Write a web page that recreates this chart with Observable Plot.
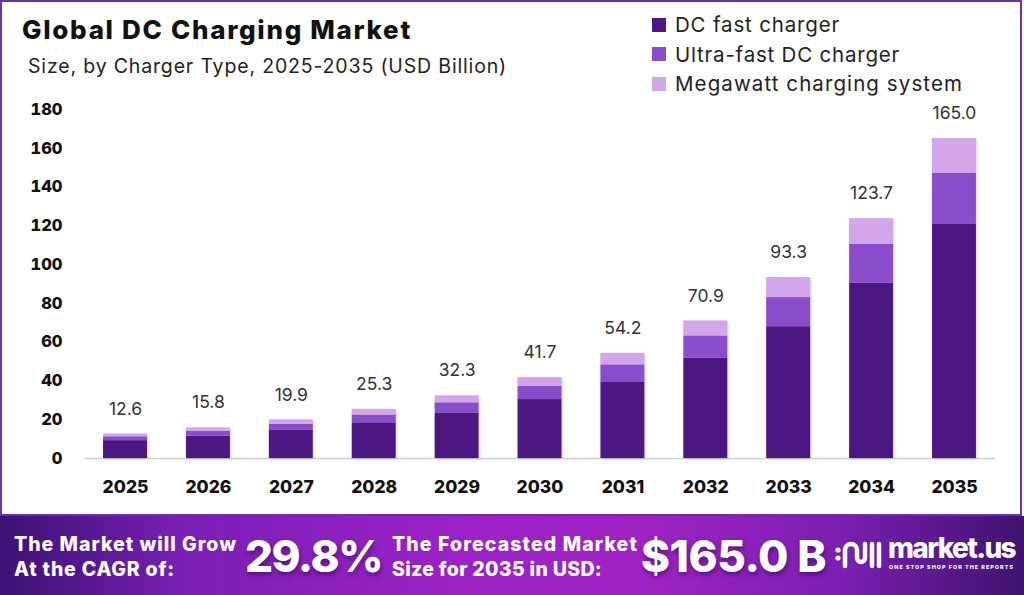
<!DOCTYPE html>
<html>
<head>
<meta charset="utf-8">
<script src="https://cdn.jsdelivr.net/npm/d3@7"></script>
<script src="https://cdn.jsdelivr.net/npm/@observablehq/plot@0.6"></script>
<style>
  html, body { margin: 0; padding: 0; background: #fff; }
  body { width: 1024px; height: 595px; overflow: hidden; position: relative; font-family: Inter, "Open Sans", sans-serif; }
  #frame { position: absolute; left: 0; top: 0; width: 1018px; height: 512px; border: 2px solid #6f2db0; background: #fff; }
  .fit { position: absolute; white-space: nowrap; }
  #title { left: 22px; top: 14px; font-size: 26px; font-weight: 800; color: #111; }
  #subtitle { left: 28px; top: 54px; font-size: 19.5px; font-weight: 400; color: #222; }
  .li { position: absolute; left: 652px; display: flex; align-items: center; height: 29px; font-size: 20.5px; color: #222; }
  .sw { width: 14px; height: 14px; margin-right: 9px; flex: none; }
  #chart { position: absolute; left: 0; top: 90px; }
  #banner { position: absolute; left: 0; top: 516px; width: 1024px; height: 79px;
    background: linear-gradient(90deg, #3b1272 0%, #7a1fb5 18%, #9c22c6 45%, #a024c4 62%, #7b1fb2 82%, #3f126f 100%); color: #fff; }
  .bt { font-weight: 800; font-size: 19.5px; line-height: 25px; }
  .big { font-weight: 800; font-size: 44px; line-height: 50px; text-shadow: 1px 3px 5px rgba(40,0,60,0.5); }
  #logotext { left: 888px; top: 16px; font-weight: 800; font-size: 28px; line-height: 32px; }
  #tag { left: 889px; top: 48px; font-weight: 800; font-size: 5.4px; }
</style>
</head>
<body>
<div id="frame"></div>
<div id="title" class="fit" data-w="390">Global DC Charging Market</div>
<div id="subtitle" class="fit" data-w="479">Size, by Charger Type, 2025-2035 (USD Billion)</div>
<div id="legend"></div>
<div id="chart"></div>
<div id="banner">
  <div class="fit bt" style="left:14px; top:16px;" data-w="223">The Market will Grow</div>
  <div class="fit bt" style="left:14px; top:41px;" data-w="161">At the CAGR of:</div>
  <div class="fit big" style="left:245px; top:15px;" data-w="137">29.8%</div>
  <div class="fit bt" style="left:392px; top:16px;" data-w="246">The Forecasted Market</div>
  <div class="fit bt" style="left:392px; top:41px;" data-w="210">Size for 2035 in USD:</div>
  <div class="fit big" style="left:641px; top:15px;" data-w="185">$165.0 B</div>
  <svg style="position:absolute; left:834px; top:20px;" width="50" height="40" viewBox="0 0 50 40">
    <circle cx="4" cy="14" r="2.6" fill="#fff"/>
    <circle cx="4" cy="22" r="2.6" fill="#fff"/>
    <path d="M11 30 V14 a6 6 0 0 1 12 0 V22 a4 4 0 0 0 8 0 V8" stroke="#fff" stroke-width="4.5" fill="none" stroke-linecap="round"/>
    <path d="M38 8 V30 M45 8 V30" stroke="#fff" stroke-width="4.5" fill="none" stroke-linecap="round"/>
  </svg>
  <div id="logotext" class="fit" data-w="127">market.us</div>
  <div id="tag" class="fit" data-w="125">ONE STOP SHOP FOR THE REPORTS</div>
</div>
<script>
const years = ["2025","2026","2027","2028","2029","2030","2031","2032","2033","2034","2035"];
const totals = [12.6, 15.8, 19.9, 25.3, 32.3, 41.7, 54.2, 70.9, 93.3, 123.7, 165.0];
const dcFast = [9.2, 11.5, 14.5, 18.4, 23.5, 30.4, 39.5, 51.7, 68.0, 90.5, 121.0];
const ultraFast = [2.0, 2.5, 3.1, 4.0, 5.2, 6.8, 8.8, 11.5, 15.0, 20.0, 26.0];
const megawatt = [1.4, 1.8, 2.3, 2.9, 3.6, 4.5, 5.9, 7.7, 10.3, 13.2, 18.0];
const seriesNames = ["DC fast charger", "Ultra-fast DC charger", "Megawatt charging system"];
const seriesColors = ["#4c1782", "#8a4ccb", "#d3a6ea"];
const legendWidths = [165, 225, 288];
const yTicks = [0, 20, 40, 60, 80, 100, 120, 140, 160, 180];

const seriesValues = [dcFast, ultraFast, megawatt];
const rows = [];
seriesNames.forEach((s, si) => years.forEach((y, i) => rows.push({year: y, series: s, value: seriesValues[si][i]})));
const totalRows = years.map((y, i) => ({year: y, total: totals[i]}));

const legend = document.getElementById("legend");
seriesNames.forEach((s, i) => {
  const d = document.createElement("div");
  d.className = "li";
  d.style.top = (10 + i * 29.5) + "px";
  d.innerHTML = `<span class="sw" style="background:${seriesColors[i]}"></span><span class="lt" data-w="${legendWidths[i]}">${s}</span>`;
  legend.appendChild(d);
});

function fitAll() {
  document.querySelectorAll("[data-w]").forEach(el => {
    el.style.letterSpacing = "0px";
    el.style.display = "inline-block";
    const w = el.getBoundingClientRect().width;
    const target = +el.dataset.w;
    const n = el.textContent.length;
    el.style.letterSpacing = ((target - w) / n) + "px";
  });
}
fitAll();

const chart = Plot.plot({
  width: 1010,
  height: 420,
  marginLeft: 84,
  marginRight: 15,
  marginTop: 19,
  marginBottom: 52,
  style: { fontFamily: "Inter, 'Open Sans', sans-serif", background: "transparent", overflow: "visible" },
  x: { domain: years, paddingInner: 0.47, paddingOuter: 0.23, round: false, label: null, tickSize: 0, tickPadding: 22 },
  y: { domain: [0, 180], ticks: yTicks, label: null, tickSize: 0, tickPadding: 22, tickFormat: d3.format("d") },
  color: { domain: seriesNames, range: seriesColors },
  marks: [
    Plot.ruleY([0], { stroke: "#cfcfcf", strokeWidth: 1.5 }),
    Plot.barY(rows, { x: "year", y: "value", fill: "series", order: seriesNames }),
    Plot.text(totalRows, { x: "year", y: "total", text: d => d.total.toFixed(1), dy: -25, fontSize: 17.5, fill: "#333" })
  ]
});
chart.querySelectorAll('g[aria-label="x-axis tick label"]').forEach(g => { g.setAttribute("font-size", "17.5"); g.setAttribute("font-weight", "800"); g.setAttribute("fill", "#111"); });
chart.querySelectorAll('g[aria-label="y-axis tick label"]').forEach(g => { g.setAttribute("font-size", "16.5"); g.setAttribute("font-weight", "800"); g.setAttribute("fill", "#111"); });
chart.querySelectorAll('g[aria-label="bar"]').forEach(g => g.style.filter = "drop-shadow(1px 1px 1.5px rgba(0,0,0,0.18))");
document.getElementById("chart").appendChild(chart);
</script>
</body>
</html>
